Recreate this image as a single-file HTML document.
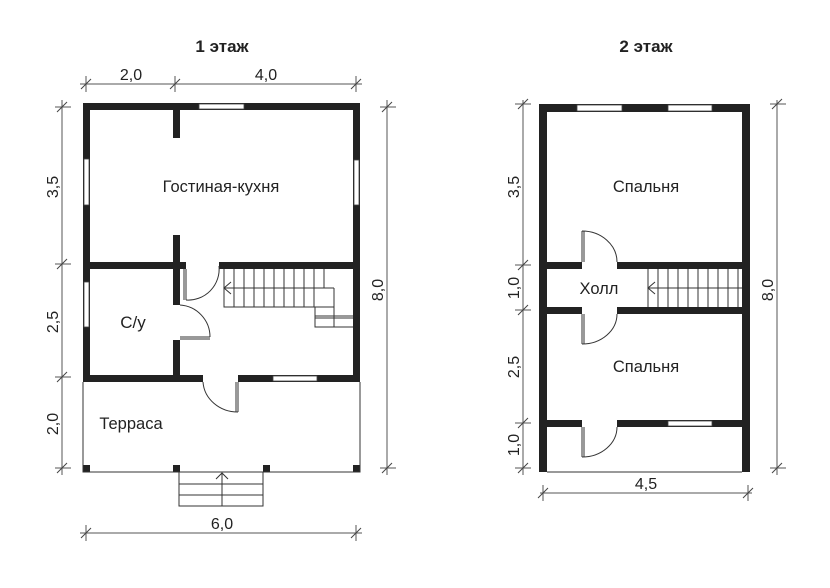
<!DOCTYPE html>
<html><head><meta charset="utf-8"><style>
html,body{margin:0;padding:0;background:#fff;}
svg{display:block;}
text{font-family:"Liberation Sans",Arial,sans-serif;fill:#222;}
</style></head><body>
<svg width="830" height="588" viewBox="0 0 830 588" xmlns="http://www.w3.org/2000/svg">
<defs>
<g id="tk"><line x1="-5" y1="5" x2="5" y2="-5" stroke="#444" stroke-width="1"/></g>
</defs>
<text x="222" y="52" font-size="17" font-weight="bold" text-anchor="middle">1 этаж</text>
<text x="646" y="52" font-size="17" font-weight="bold" text-anchor="middle">2 этаж</text>

<!-- ===== FLOOR 1 ===== -->
<g fill="#222">
<rect x="83" y="103" width="277" height="7"/>
<rect x="83" y="103" width="7" height="279"/>
<rect x="353" y="103" width="7" height="279"/>
<rect x="83" y="262" width="103" height="7"/>
<rect x="219" y="262" width="141" height="7"/>
<rect x="83" y="375" width="120" height="7"/>
<rect x="238" y="375" width="122" height="7"/>
<rect x="173" y="103" width="7" height="35"/>
<rect x="173" y="235" width="7" height="70"/>
<rect x="173" y="340" width="7" height="42"/>
<rect x="83" y="465" width="7" height="7"/>
<rect x="173" y="465" width="7" height="7"/>
<rect x="263" y="465" width="7" height="7"/>
<rect x="353" y="465" width="7" height="7"/>
</g>
<g fill="#fff" stroke="#444" stroke-width="0.8">
<rect x="199" y="104" width="45" height="5"/>
<rect x="84" y="159" width="5" height="46"/>
<rect x="84" y="282" width="5" height="45"/>
<rect x="354" y="160" width="5" height="45"/>
<rect x="273" y="376" width="44" height="5"/>
</g>
<g fill="none" stroke="#333" stroke-width="1">
<path d="M186 269 V300 M184 269 V300"/>
<path d="M186 300 A31 31 0 0 0 219 266"/>
<path d="M180 337 H210 M180 339 H210"/>
<path d="M180 305 A32 32 0 0 1 210 337"/>
<path d="M238 382 V412 M236 382 V412"/>
<path d="M203 382 A35 32 0 0 0 238 412"/>
<path d="M83 382 V472 H360 V382"/>
<path d="M224 269 V307 H334 V288 M224 288 H334"/>
<path d="M234 269V307 M244 269V307 M254 269V307 M264 269V307 M274 269V307 M284 269V307 M294 269V307 M304 269V307 M314 269V307 M324 269V288"/>
<path d="M231 282 L224 288 L231 294"/>
<path d="M315 307 V327 H353 M334 307 V327 M315 316 H353 M315 318 H353"/>
<path d="M179 472 V506 H263 V472 M179 484 H263 M179 495 H263 M222 473 V506 M216 479 L222 473 L228 479"/>
</g>
<text x="221" y="192" font-size="16.5" text-anchor="middle">Гостиная-кухня</text>
<text x="133" y="328" font-size="17" text-anchor="middle">С/у</text>
<text x="131" y="429" font-size="16.5" text-anchor="middle">Терраса</text>

<g stroke="#555" stroke-width="1" fill="none">
<path d="M80 84 H362 M86 76 V92 M175 76 V92 M356 76 V92"/>
<path d="M80 533 H362 M86 525 V541 M356 525 V541"/>
<path d="M62 100 V475 M55 107 H71 M55 264 H71 M55 377 H71 M55 468 H71"/>
<path d="M387 100 V475 M380 107 H396 M380 468 H396"/>
<path d="M523 100 V475 M515 104 H531 M515 265 H531 M515 310 H531 M515 423 H531 M515 468 H531"/>
<path d="M777 100 V475 M770 104 H786 M770 468 H786"/>
<path d="M540 493 H752 M543 485 V501 M748 485 V501"/>
</g>
<g>
<use href="#tk" x="86" y="84"/><use href="#tk" x="175" y="84"/><use href="#tk" x="356" y="84"/>
<use href="#tk" x="86" y="533"/><use href="#tk" x="356" y="533"/>
<use href="#tk" x="62" y="107"/><use href="#tk" x="62" y="264"/><use href="#tk" x="62" y="377"/><use href="#tk" x="62" y="468"/>
<use href="#tk" x="387" y="107"/><use href="#tk" x="387" y="468"/>
<use href="#tk" x="523" y="104"/><use href="#tk" x="523" y="265"/><use href="#tk" x="523" y="310"/><use href="#tk" x="523" y="423"/><use href="#tk" x="523" y="468"/>
<use href="#tk" x="777" y="104"/><use href="#tk" x="777" y="468"/>
<use href="#tk" x="543" y="493"/><use href="#tk" x="748" y="493"/>
</g>
<g font-size="16">
<text x="131" y="80" text-anchor="middle">2,0</text>
<text x="266" y="80" text-anchor="middle">4,0</text>
<text x="222" y="529" text-anchor="middle">6,0</text>
<text x="646" y="489" text-anchor="middle">4,5</text>
<text transform="translate(58,187) rotate(-90)" text-anchor="middle">3,5</text>
<text transform="translate(58,322) rotate(-90)" text-anchor="middle">2,5</text>
<text transform="translate(58,424) rotate(-90)" text-anchor="middle">2,0</text>
<text transform="translate(383,290) rotate(-90)" text-anchor="middle">8,0</text>
<text transform="translate(519,187) rotate(-90)" text-anchor="middle">3,5</text>
<text transform="translate(519,288) rotate(-90)" text-anchor="middle">1,0</text>
<text transform="translate(519,367) rotate(-90)" text-anchor="middle">2,5</text>
<text transform="translate(519,445) rotate(-90)" text-anchor="middle">1,0</text>
<text transform="translate(773,290) rotate(-90)" text-anchor="middle">8,0</text>
</g>

<!-- ===== FLOOR 2 ===== -->
<g fill="#222">
<rect x="539" y="104" width="211" height="8"/>
<rect x="539" y="104" width="8" height="368"/>
<rect x="742" y="104" width="8" height="368"/>
<rect x="547" y="262" width="35" height="7"/>
<rect x="617" y="262" width="125" height="7"/>
<rect x="547" y="307" width="35" height="7"/>
<rect x="617" y="307" width="125" height="7"/>
<rect x="547" y="420" width="35" height="7"/>
<rect x="617" y="420" width="125" height="7"/>
</g>
<g fill="#fff" stroke="#444" stroke-width="0.8">
<rect x="577" y="105" width="45" height="6"/>
<rect x="668" y="105" width="44" height="6"/>
<rect x="668" y="421" width="44" height="5"/>
</g>
<g fill="none" stroke="#333" stroke-width="1">
<path d="M547 472 H742"/>
<path d="M582 262 V231 M584 262 V231 M582 231 A35 31 0 0 1 617 262"/>
<path d="M582 314 V344 M584 314 V344 M582 344 A35 30 0 0 0 617 314"/>
<path d="M582 427 V457 M584 427 V457 M582 457 A35 30 0 0 0 617 427"/>
<path d="M648 269 V307 M648 288 H742"/>
<path d="M658 269V307 M668 269V307 M678 269V307 M688 269V307 M698 269V307 M708 269V307 M718 269V307 M728 269V307 M738 269V307"/>
<path d="M655 282 L648 288 L655 294"/>
</g>
<text x="646" y="192" font-size="16.5" text-anchor="middle">Спальня</text>
<text x="599" y="294" font-size="16.5" text-anchor="middle">Холл</text>
<text x="646" y="372" font-size="16.5" text-anchor="middle">Спальня</text>
</svg>
</body></html>
